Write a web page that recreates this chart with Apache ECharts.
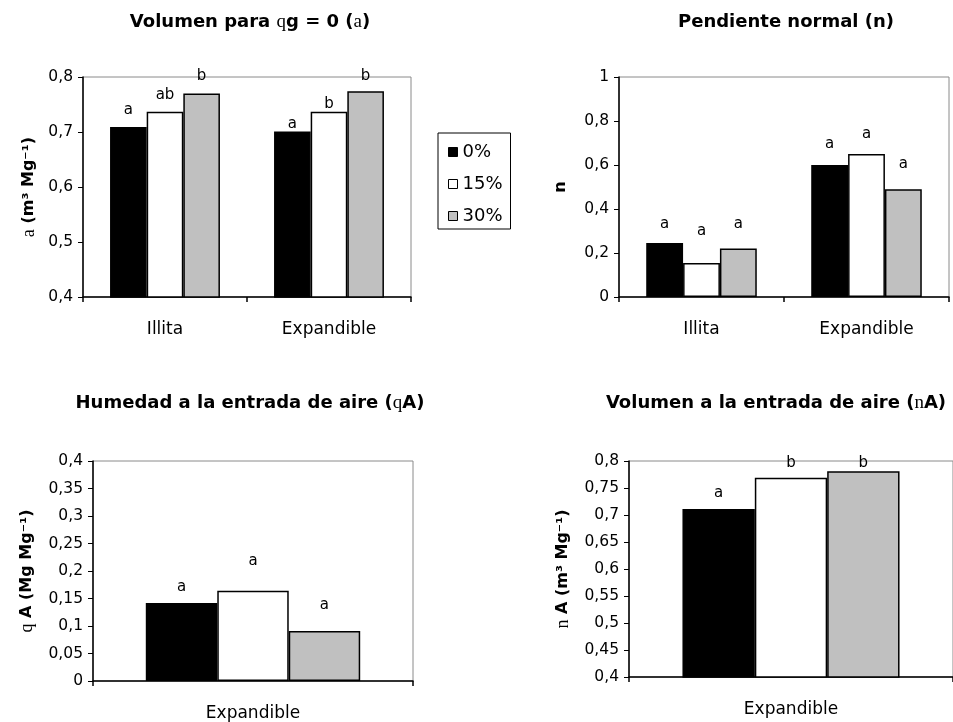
<!DOCTYPE html>
<html>
<head>
<meta charset="utf-8">
<script src="https://cdn.jsdelivr.net/npm/echarts@6/dist/echarts.min.js"></script>
<style>html,body{margin:0;padding:0;background:#fff;}#c{width:953px;height:722px;}</style>
</head>
<body>
<div id="c"></div>
<script>
// ---- data ----
const seriesNames = ['0%', '15%', '30%'];
const catsTop = ['Illita', 'Expandible'];
const catsBottom = ['Expandible'];

// Volumen para qg = 0 (a)
const aVol = [[0.709, 0.701], [0.737, 0.737], [0.770, 0.774]];
const aVolLetters = [['a', 'a'], ['ab', 'b'], ['b', 'b']];
const aVolLetterY = [[0.7405, 0.7145], [0.7665, 0.7515], [0.801, 0.801]];

// Pendiente normal (n)
const nSlope = [[0.245, 0.600], [0.155, 0.650], [0.220, 0.490]];
const nSlopeLetters = [['a', 'a'], ['a', 'a'], ['a', 'a']];
const nSlopeLetterY = [[0.333, 0.697], [0.298, 0.742], [0.333, 0.606]];

// Humedad a la entrada de aire (qA)
const qA = [[0.142], [0.164], [0.091]];
const qALetters = [['a'], ['a'], ['a']];
const qALetterY = [[0.1715], [0.218], [0.138]];

// Volumen a la entrada de aire (nA)
const nA = [[0.711], [0.769], [0.781]];
const nALetters = [['a'], ['b'], ['b']];
const nALetterY = [[0.741], [0.796], [0.796]];

const yTicks = [
  {min: 0.4, max: 0.8, interval: 0.1},
  {min: 0, max: 1, interval: 0.2},
  {min: 0, max: 0.4, interval: 0.05},
  {min: 0.4, max: 0.8, interval: 0.05}
];

// ---- styles ----
const SANS = 'DejaVu Sans';
const SERIF = 'Liberation Serif';
const barColors = ['#000000', '#ffffff', '#c0c0c0'];

const grids = [
  {left: 83, top: 77, width: 328, height: 220},
  {left: 619, top: 77, width: 330, height: 220},
  {left: 93, top: 461, width: 320, height: 220},
  {left: 629, top: 461, width: 328, height: 216}
].map(g => Object.assign({show: true, borderColor: '#8a8a8a', borderWidth: 1, backgroundColor: 'rgba(0,0,0,0)'}, g));

const panels = [
  {cats: catsTop, vals: aVol, letters: aVolLetters, ly: aVolLetterY,
   name: '{s|a} (m³ Mg⁻¹)', nameGap: 45},
  {cats: catsTop, vals: nSlope, letters: nSlopeLetters, ly: nSlopeLetterY,
   name: 'n', nameGap: 50},
  {cats: catsBottom, vals: qA, letters: qALetters, ly: qALetterY,
   name: '{s|q} A (Mg Mg⁻¹)', nameGap: 57},
  {cats: catsBottom, vals: nA, letters: nALetters, ly: nALetterY,
   name: '{s|n} A (m³ Mg⁻¹)', nameGap: 57}
];

function fmt(v) {
  return String(Number(v.toFixed(2))).replace('.', ',');
}

const xAxes = [], yAxes = [], series = [];
panels.forEach((p, i) => {
  xAxes.push({
    type: 'category', gridIndex: i, data: p.cats,
    axisLine: {show: true, onZero: false, lineStyle: {color: '#000', width: 1.5}},
    axisTick: {show: true, length: 5, interval: 0, lineStyle: {color: '#000', width: 1.5}},
    axisLabel: {fontFamily: SANS, fontSize: 17, color: '#000', margin: 24},
    splitLine: {show: false}
  });
  yAxes.push({
    type: 'value', gridIndex: i,
    min: yTicks[i].min, max: yTicks[i].max, interval: yTicks[i].interval,
    axisLine: {show: true, lineStyle: {color: '#000', width: 1.5}},
    axisTick: {show: true, length: 5, lineStyle: {color: '#000', width: 1}},
    splitLine: {show: false},
    axisLabel: {fontFamily: SANS, fontSize: 15.5, color: '#000', margin: 10, formatter: fmt},
    name: p.name, nameLocation: 'middle', nameGap: p.nameGap, nameRotate: 90,
    nameTextStyle: {fontFamily: SANS, fontWeight: 'bold', fontSize: 16, color: '#000',
      rich: {s: {fontFamily: SERIF, fontWeight: 'normal', fontSize: 18, color: '#000'}}}
  });
  p.vals.forEach((vals, k) => {
    const stack = 'p' + i + 's' + k;
    series.push({
      type: 'bar', name: seriesNames[k], xAxisIndex: i, yAxisIndex: i, stack: stack,
      data: vals, barCategoryGap: '33%', barGap: '0%',
      itemStyle: {color: barColors[k], borderColor: '#000', borderWidth: 1.5},
      emphasis: {disabled: true}, silent: true
    });
    series.push({
      type: 'bar', name: 'letters' + i + '_' + k, xAxisIndex: i, yAxisIndex: i, stack: stack,
      data: p.ly[k].map((y, j) => y - vals[j]), barCategoryGap: '33%', barGap: '0%',
      clip: false, silent: true, emphasis: {disabled: true},
      itemStyle: {color: 'rgba(0,0,0,0)', borderWidth: 0},
      label: {show: true, position: 'top', distance: 0, verticalAlign: 'middle',
        fontFamily: SANS, fontSize: 15, color: '#000',
        formatter: (q) => p.letters[k][q.dataIndex]}
    });
  });
});

const titleStyle = {fontFamily: SANS, fontWeight: 'bold', fontSize: 18, color: '#000',
  rich: {s: {fontFamily: SERIF, fontWeight: 'normal', fontSize: 19, color: '#000'}}};

const option = {
  animation: false,
  backgroundColor: '#fff',
  title: [
    {text: 'Volumen para {s|q}g = 0 ({s|a})', left: 250, top: 13},
    {text: 'Pendiente normal (n)', left: 786, top: 13},
    {text: 'Humedad a la entrada de aire ({s|q}A)', left: 250, top: 394},
    {text: 'Volumen a la entrada de aire ({s|n}A)', left: 776, top: 394}
  ].map(t => Object.assign({textAlign: 'center', padding: 0, textStyle: titleStyle}, t)),
  legend: {
    data: seriesNames, orient: 'vertical', left: 438, top: 133,
    selectedMode: false, icon: 'rect', itemWidth: 9, itemHeight: 9, itemGap: 12,
    borderColor: '#000', borderWidth: 1, padding: [9, 8, 3, 10],
    itemStyle: {borderColor: '#000', borderWidth: 1},
    textStyle: {fontFamily: SANS, fontSize: 18, color: '#000', lineHeight: 20}
  },
  grid: grids,
  xAxis: xAxes,
  yAxis: yAxes,
  series: series
};

const chart = echarts.init(document.getElementById('c'));
chart.setOption(option);
</script>
</body>
</html>
